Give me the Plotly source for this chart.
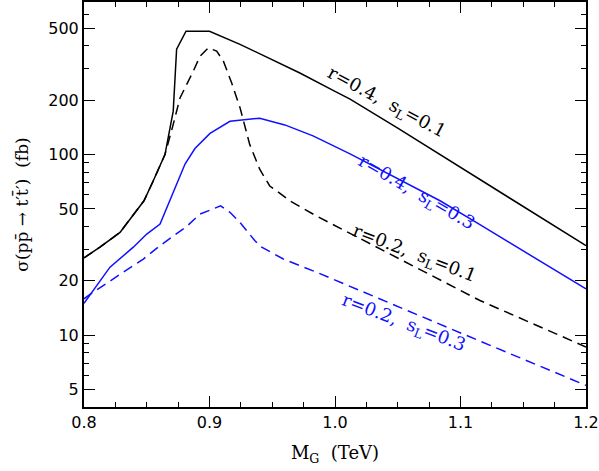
import plotly.graph_objects as go
import numpy as np

# r=0.4, s_L=0.1 (black solid)
m_a = [0.80, 0.8127, 0.8287, 0.8478, 0.8552, 0.8645, 0.8711, 0.8738, 0.8813, 0.90,
       0.9243, 0.95, 0.972, 1.0, 1.012, 1.05, 1.1, 1.1155, 1.15, 1.2]
sig_a = [26.8, 30.7, 37.1, 55.5, 71.6, 100, 174, 384, 482, 482,
         408, 335, 283, 224, 203, 140, 85, 73.3, 51.8, 31.3]

# r=0.2, s_L=0.1 (black dashed)
m_b = [0.80, 0.8127, 0.8287, 0.8478, 0.8552, 0.8645, 0.8711, 0.8765, 0.8871, 0.8924,
       0.899, 0.9057, 0.911, 0.9176, 0.9243, 0.932, 0.94, 0.948, 0.9535, 0.964,
       0.985, 1.1155, 1.2]
sig_b = [26.8, 30.7, 37.1, 55.5, 71.6, 100, 147, 206, 290, 350,
         390, 374, 330, 250, 182, 114, 83, 67, 63, 55.5,
         45.8, 15.55, 8.6]

# r=0.4, s_L=0.3 (blue solid)
m_c = [0.80, 0.8207, 0.8393, 0.85, 0.8606, 0.8685, 0.8751, 0.8805, 0.8884, 0.9004,
       0.9163, 0.94, 0.96, 0.9825, 1.012, 1.0837, 1.1155, 1.2]
sig_c = [15.0, 23.8, 30.7, 36.3, 41.2, 55.5, 71.6, 88.6, 108, 131,
         153, 159, 146, 127, 101, 55.5, 40.9, 18.04]

# r=0.2, s_L=0.3 (blue dashed)
m_d = [0.80, 0.8074, 0.8313, 0.8473, 0.8606, 0.8765, 0.8818, 0.8924, 0.9088, 0.9163,
       0.9243, 0.9362, 0.9416, 0.9588, 0.9853, 1.1155, 1.2]
sig_d = [15.9, 17.3, 22.3, 26.4, 31.3, 37.5, 40.0, 46.8, 52.0, 47.9,
         42.1, 33.3, 30.7, 26.4, 22.3, 9.27, 5.27]

y_major = [5, 10, 20, 50, 100, 200, 500]
y_minor = [4, 6, 7, 8, 9, 30, 40, 60, 70, 80, 90, 300, 400, 600, 700]
x_major = [0.8, 0.9, 1.0, 1.1, 1.2]
x_labels = ["0.8", "0.9", "1.0", "1.1", "1.2"]

BLUE = "#1010ff"
DASH = "10px,6px"

fig = go.Figure()
fig.add_trace(go.Scatter(x=m_a, y=sig_a, mode="lines", line=dict(color="black", width=1.5)))
fig.add_trace(go.Scatter(x=m_b, y=sig_b, mode="lines", line=dict(color="black", width=1.5, dash=DASH)))
fig.add_trace(go.Scatter(x=m_c, y=sig_c, mode="lines", line=dict(color=BLUE, width=1.5)))
fig.add_trace(go.Scatter(x=m_d, y=sig_d, mode="lines", line=dict(color=BLUE, width=1.5, dash=DASH)))

# curve labels
serif = dict(family="DejaVu Serif", size=18)
labels = [
    (1.0414, 2.286, "r=0.4,  s<sub>L</sub>=0.1", "black", 28),
    (1.065, 1.79, "r=0.4,  s<sub>L</sub>=0.3", BLUE, 30),
    (1.063, 1.451, "r=0.2,  s<sub>L</sub>=0.1", "black", 21),
    (1.0542, 1.065, "r=0.2,  s<sub>L</sub>=0.3", BLUE, 21),
]
for x, y, txt, col, ang in labels:
    fig.add_annotation(x=x, y=y, text=txt, showarrow=False, textangle=ang,
                       font=dict(serif, color=col), xanchor="center", yanchor="middle")

fig.update_xaxes(
    range=[0.8, 1.2], tickvals=x_major, ticktext=x_labels,
    ticks="inside", ticklen=11, tickwidth=1.3, tickcolor="black",
    minor=dict(dtick=0.025, ticks="inside", ticklen=5, tickwidth=1.3, tickcolor="black"),
    showline=True, linecolor="black", linewidth=2, mirror="ticks",
    showgrid=False, zeroline=False, automargin=False,
    tickfont=dict(family="DejaVu Sans", size=16, color="black"),
    title=dict(text="M<sub>G</sub>  (TeV)", font=dict(family="DejaVu Serif", size=18, color="black")),
)
fig.update_yaxes(
    type="log", range=[np.log10(4), np.log10(700)],
    tickvals=y_major, ticktext=[str(v) for v in y_major],
    ticks="inside", ticklen=11, tickwidth=1.3, tickcolor="black",
    minor=dict(tickvals=y_minor, ticks="inside", ticklen=5, tickwidth=1.3, tickcolor="black"),
    showline=True, linecolor="black", linewidth=2, mirror="ticks",
    showgrid=False, zeroline=False, automargin=False,
    tickfont=dict(family="DejaVu Sans", size=16, color="black"),
    title=dict(text="σ(pp̄ → t′t̄′)  (fb)", font=dict(family="DejaVu Serif", size=17, color="black")),
)
fig.update_layout(
    width=599, height=471,
    margin=dict(l=84, r=13, t=2, b=64, autoexpand=False),
    plot_bgcolor="white", paper_bgcolor="white",
    showlegend=False,
)
# page body has a default 8px margin; drop it so the figure sits at the corner
fig.write_html("out.html", config={"displayModeBar": False},
               post_script="document.body.style.margin='0';")
